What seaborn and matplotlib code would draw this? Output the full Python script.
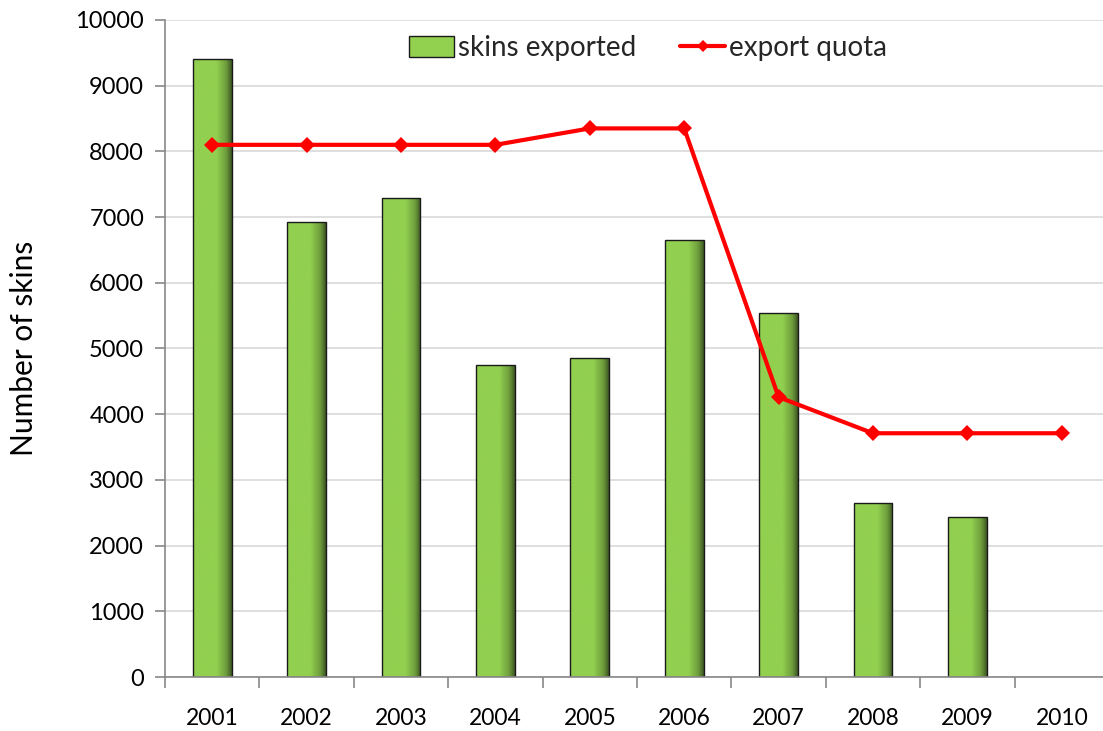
import numpy as np
import pandas as pd
import matplotlib
matplotlib.use("Agg")
import matplotlib.pyplot as plt
import seaborn as sns
from matplotlib.colors import LinearSegmentedColormap
from matplotlib.lines import Line2D
from matplotlib.patches import Patch

years = ["2001", "2002", "2003", "2004", "2005", "2006", "2007", "2008", "2009", "2010"]
skins_exported = [9400, 6920, 7290, 4750, 4850, 6650, 5540, 2650, 2440, np.nan]
export_quota = [8100, 8100, 8100, 8100, 8350, 8350, 4260, 3710, 3710, 3710]

df = pd.DataFrame({"year": years, "exported": skins_exported, "quota": export_quota})

sns.set_theme(style="white")
plt.rcParams["font.family"] = ["Lato", "DejaVu Sans"]

W, H = 1103, 731
fig = plt.figure(figsize=(W / 100, H / 100), dpi=100)
left, right, top, bottom = 165, 1109, 20, 677
ax = fig.add_axes([left / W, 1 - bottom / H, (right - left) / W, (bottom - top) / H])

green = "#92D050"
sns.barplot(data=df, x="year", y="exported", color=green, width=0.41,
            edgecolor="#1a1a1a", linewidth=1.0, saturation=1, ax=ax, zorder=2)

# horizontal shading on each bar: flat green, darkening toward the right edge
shade = LinearSegmentedColormap.from_list(
    "bar_shade", [(0.0, green), (0.6, green), (0.85, "#6f9e3c"), (1.0, "#3d5722")])
grad = np.linspace(0, 1, 256).reshape(1, -1)
for p in list(ax.patches):
    h = p.get_height()
    if not np.isfinite(h) or h <= 0:
        continue
    x0, w = p.get_x(), p.get_width()
    im = ax.imshow(grad, cmap=shade, aspect="auto", extent=(x0, x0 + w, 0, h),
                   zorder=2.1, interpolation="bicubic")
    im.set_clip_path(p)
    p.set_facecolor("none")
    p.set_zorder(2.2)

xs = np.arange(len(years))
sns.lineplot(x=xs, y=df["quota"].values, color="#FF0000", linewidth=3,
             marker="D", markersize=8, markeredgewidth=0, ax=ax, zorder=3)

ax.set_xlim(-0.5, len(years) - 0.5)
ax.set_ylim(0, 10000)
ax.set_yticks(np.arange(0, 10001, 1000))
ax.yaxis.grid(True, color="#d9d9d9", linewidth=1.2)
ax.set_axisbelow(True)
ax.set_xlabel("")
ax.set_ylabel("Number of skins", fontsize=21.5, color="black")
ax.yaxis.set_label_coords((38 - left) / (right - left), 0.5)

for s in ["top", "right"]:
    ax.spines[s].set_visible(False)
for s in ["left", "bottom"]:
    ax.spines[s].set_color("#888888")
    ax.spines[s].set_linewidth(1.2)

ax.set_xticks(xs)
ax.set_xticklabels(years)
ax.set_xticks(np.arange(-0.5, len(years), 1.0), minor=True)
ax.tick_params(axis="x", which="major", length=0, pad=22, labelsize=16.5, labelcolor="black")
ax.tick_params(axis="x", which="minor", length=8, width=1.2, color="#888888", direction="out")
ax.tick_params(axis="y", which="major", length=7, width=1.2, color="#888888",
               direction="out", labelsize=17, labelcolor="black", pad=8)
ax.tick_params(bottom=True, left=True, which="both")

handles = [
    Patch(facecolor=green, edgecolor="#1a1a1a", linewidth=1.0, label="skins exported"),
    Line2D([0], [0], color="#FF0000", linewidth=3, marker="D", markersize=6,
           markeredgewidth=0, label="export quota"),
]
ax.legend(handles=handles, loc="upper center", bbox_to_anchor=((648 - left) / (right - left), 1.0),
          ncol=2, frameon=False, fontsize=20, handlelength=1.6, handleheight=0.8,
          handletextpad=0.15, columnspacing=1.6, borderaxespad=0.15)

fig.savefig("out.png", dpi=100)
